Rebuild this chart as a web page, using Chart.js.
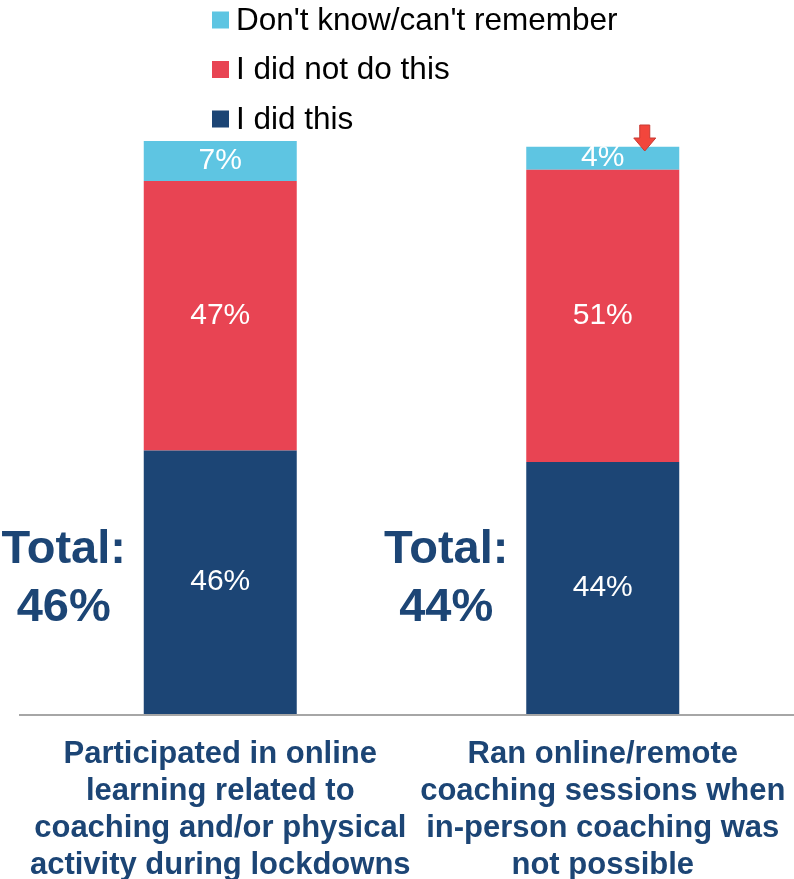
<!DOCTYPE html>
<html>
<head>
<meta charset="utf-8">
<script src="https://cdn.jsdelivr.net/npm/chart.js@4/dist/chart.umd.min.js"></script>
<style>
  html, body { margin: 0; padding: 0; background: #fff; }
  #wrap { width: 794px; height: 879px; position: relative; }
</style>
</head>
<body>
<div id="wrap"><canvas id="surveyChart"></canvas></div>
<script>
// Survey answers, per activity (percent of respondents)
const categories = [
    ['Participated in online', 'learning related to', 'coaching and/or physical', 'activity during lockdowns'],
    ['Ran online/remote', 'coaching sessions when', 'in-person coaching was', 'not possible']
];
const didThis = [46, 44];
const didNotDoThis = [47, 51];
const dontKnow = [7, 4];

const seriesNames = ['I did this', 'I did not do this', "Don't know/can't remember"];
const seriesColors = ['#1c4575', '#e84453', '#5ec5e2'];
const navy = '#1c4575';

// White % labels centred in every segment
const segmentLabels = {
    id: 'segmentLabels',
    afterDatasetsDraw(chart) {
        const c = chart.ctx;
        c.save();
        c.fillStyle = '#fff';
        c.font = '30px "Liberation Sans", Arial, sans-serif';
        c.textAlign = 'center';
        c.textBaseline = 'middle';
        chart.data.datasets.forEach((ds, di) => {
            chart.getDatasetMeta(di).data.forEach((bar, i) => {
                c.fillText(ds.data[i] + '%', bar.x, (bar.y + bar.base) / 2);
            });
        });
        c.restore();
    }
};

// "Total: xx%" beside each bar, plus the small red arrow
const totals = {
    id: 'totals',
    afterDraw(chart) {
        const c = chart.ctx;
        const area = chart.chartArea;
        c.save();
        c.fillStyle = navy;
        c.font = 'bold 47px "Liberation Sans", Arial, sans-serif';
        c.textAlign = 'center';
        c.textBaseline = 'middle';
        chart.getDatasetMeta(0).data.forEach((bar, i) => {
            const x = bar.x - bar.width / 2 - 80;
            c.fillText('Total:', x, area.bottom - 164);
            c.fillText(didThis[i] + '%', x, area.bottom - 106);
        });

        // down arrow over the second bar
        const bar = chart.getDatasetMeta(2).data[1];
        const ax = bar.x + 42;
        const top = area.top - 16;
        c.beginPath();
        c.moveTo(ax - 5, top);
        c.lineTo(ax + 5, top);
        c.lineTo(ax + 5, top + 13);
        c.lineTo(ax + 11, top + 13);
        c.lineTo(ax, top + 26);
        c.lineTo(ax - 11, top + 13);
        c.lineTo(ax - 5, top + 13);
        c.closePath();
        c.fillStyle = '#f2463c';
        c.fill();
        c.strokeStyle = '#c73a33';
        c.lineWidth = 1;
        c.stroke();
        c.restore();
    }
};

// Vertical legend, top series first
const stackLegend = {
    id: 'stackLegend',
    afterDraw(chart) {
        const c = chart.ctx;
        c.save();
        c.font = '31.5px "Liberation Sans", Arial, sans-serif';
        c.textBaseline = 'middle';
        const order = chart.data.datasets.slice().reverse();
        order.forEach((ds, k) => {
            const y = 20 + k * 49.5;
            c.fillStyle = ds.backgroundColor;
            c.fillRect(212, y - 8.5, 17, 17);
            c.fillStyle = '#000';
            c.fillText(ds.label, 236, y + 1);
        });
        c.restore();
    }
};

// Baseline under the bars
const baseLine = {
    id: 'baseLine',
    beforeDatasetsDraw(chart) {
        const c = chart.ctx;
        const y = chart.chartArea.bottom + 1;
        c.save();
        c.strokeStyle = '#a6a6a6';
        c.lineWidth = 2;
        c.beginPath();
        c.moveTo(19, y);
        c.lineTo(chart.width, y);
        c.stroke();
        c.restore();
    }
};

const ctx = document.getElementById('surveyChart').getContext('2d');
const surveyChart = new Chart(ctx, {
    type: 'bar',
    data: {
        labels: categories,
        datasets: [
            { label: seriesNames[0], data: didThis, backgroundColor: seriesColors[0] },
            { label: seriesNames[1], data: didNotDoThis, backgroundColor: seriesColors[1] },
            { label: seriesNames[2], data: dontKnow, backgroundColor: seriesColors[2] }
        ]
    },
    options: {
        responsive: true,
        maintainAspectRatio: false,
        animation: false,
        datasets: {
            bar: { barPercentage: 0.4, categoryPercentage: 1 }
        },
        layout: {
            padding: { top: 141, left: 29, right: -2, bottom: 0 }
        },
        scales: {
            x: {
                stacked: true,
                grid: { display: false },
                border: { display: false },
                afterFit(scale) {
                    // fixed band for the labels; don't let wide labels squeeze the bars
                    scale.height = 165;
                    scale.paddingLeft = 0;
                    scale.paddingRight = 0;
                },
                ticks: {
                    color: navy,
                    padding: 14,
                    maxRotation: 0,
                    autoSkip: false,
                    font: {
                        family: '"Liberation Sans Narrow", "Arial Narrow", "Liberation Sans", sans-serif',
                        weight: 'bold',
                        size: 31,
                        lineHeight: 1.19
                    }
                }
            },
            y: {
                stacked: true,
                min: 0,
                max: 100,
                display: false
            }
        },
        plugins: {
            legend: { display: false },
            tooltip: { enabled: false }
        }
    },
    plugins: [segmentLabels, totals, stackLegend, baseLine]
});
</script>
</body>
</html>
